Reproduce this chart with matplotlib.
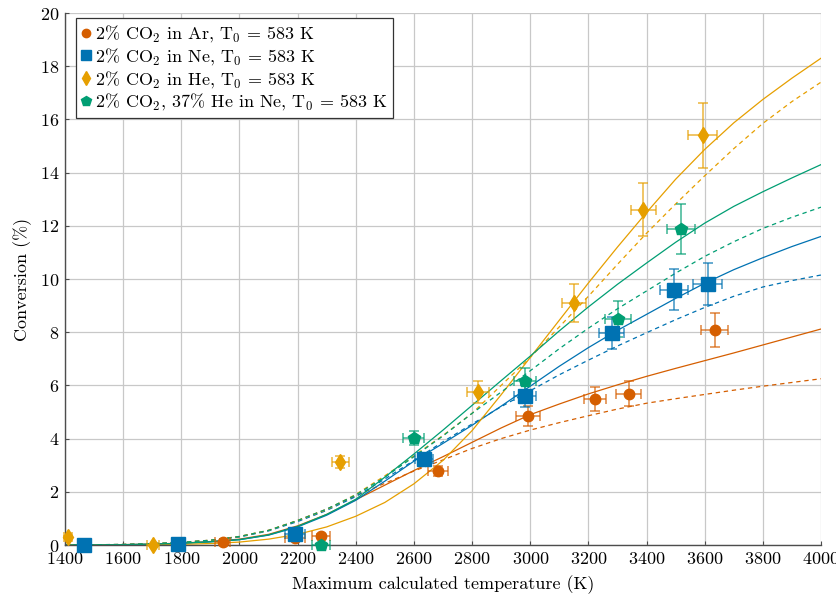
import numpy as np
import matplotlib
matplotlib.use("Agg")
import matplotlib.pyplot as plt
from matplotlib.lines import Line2D

plt.rcParams["font.family"] = "serif"
plt.rcParams["font.serif"] = ["cmr10"]
plt.rcParams["mathtext.fontset"] = "cm"
plt.rcParams["axes.formatter.use_mathtext"] = True
plt.rcParams["font.size"] = 13

C_AR = "#d55e00"
C_NE = "#0072b2"
C_HE = "#e69f00"
C_MIX = "#009e73"

# measured conversion with uncertainties
ar_T = [1942, 2191, 2280, 2683, 2992, 3222, 3339, 3635]
ar_conv = [0.1, 0.28, 0.34, 2.78, 4.85, 5.49, 5.68, 8.08]
ar_Terr = [25, 33, 32, 33, 40, 38, 43, 46]
ar_err = [0.03, 0.1, 0.08, 0.2, 0.39, 0.46, 0.47, 0.64]

ne_T = [1465, 1789, 2191, 2634, 2982, 3281, 3494, 3611]
ne_conv = [0.0, 0.02, 0.41, 3.22, 5.6, 7.97, 9.6, 9.81]
ne_Terr = [15, 20, 35, 32, 39, 43, 47, 50]
ne_err = [0.0, 0.0, 0.12, 0.15, 0.4, 0.6, 0.76, 0.78]

he_T = [1410, 1702, 2346, 2820, 3150, 3388, 3594]
he_conv = [0.3, 0.0, 3.12, 5.75, 9.1, 12.6, 15.4]
he_Terr = [15, 20, 29, 38, 41, 43, 50]
he_err = [0.05, 0.0, 0.22, 0.42, 0.72, 1.0, 1.22]

mix_T = [2280, 2600, 2982, 3302, 3518]
mix_conv = [0.0, 4.02, 6.17, 8.5, 11.88]
mix_Terr = [30, 36, 39, 44, 48]
mix_err = [0.0, 0.27, 0.48, 0.68, 0.95]

# model curves (solid and dashed variants)
model_T = [1400, 1500, 1600, 1700, 1800, 1900, 2000, 2100, 2200, 2300, 2400,
           2500, 2600, 2700, 2800, 2900, 3000, 3100, 3200, 3300, 3400, 3500,
           3600, 3700, 3800, 3900, 4000]

ar_solid = [0, 0.005, 0.015, 0.035, 0.07, 0.13, 0.22, 0.4, 0.72, 1.15, 1.7,
            2.25, 2.8, 3.32, 3.86, 4.4, 4.9, 5.3, 5.68, 6.02, 6.34, 6.64,
            6.93, 7.22, 7.52, 7.82, 8.12]
ar_dashed = [0, 0.01, 0.02, 0.05, 0.1, 0.18, 0.32, 0.55, 0.92, 1.35, 1.85,
             2.32, 2.78, 3.2, 3.63, 4.0, 4.32, 4.6, 4.86, 5.11, 5.33, 5.5,
             5.66, 5.82, 5.97, 6.11, 6.25]
ne_solid = [0, 0.005, 0.012, 0.03, 0.065, 0.12, 0.2, 0.37, 0.68, 1.12, 1.68,
            2.4, 3.15, 3.82, 4.5, 5.22, 5.97, 6.72, 7.42, 8.07, 8.67, 9.27,
            9.84, 10.35, 10.8, 11.22, 11.6]
ne_dashed = [0, 0.01, 0.02, 0.05, 0.1, 0.17, 0.3, 0.53, 0.88, 1.3, 1.82,
             2.48, 3.18, 3.88, 4.55, 5.2, 5.8, 6.4, 6.95, 7.48, 7.98, 8.47,
             8.93, 9.35, 9.7, 9.94, 10.15]
he_solid = [0, 0.002, 0.005, 0.01, 0.025, 0.055, 0.11, 0.22, 0.4, 0.68, 1.08,
            1.6, 2.3, 3.18, 4.3, 5.65, 7.05, 8.45, 9.85, 11.2, 12.5, 13.75,
            14.87, 15.87, 16.75, 17.55, 18.3]
he_dashed = [0, 0.01, 0.02, 0.05, 0.1, 0.18, 0.32, 0.55, 0.92, 1.33, 1.9,
             2.6, 3.35, 4.12, 4.95, 6.0, 7.05, 8.2, 9.35, 10.55, 11.72, 12.82,
             13.88, 14.9, 15.85, 16.67, 17.4]
mix_solid = [0, 0.005, 0.012, 0.03, 0.065, 0.12, 0.2, 0.38, 0.7, 1.15, 1.72,
             2.55, 3.42, 4.32, 5.25, 6.18, 7.1, 8.05, 8.95, 9.8, 10.6, 11.38,
             12.1, 12.73, 13.28, 13.8, 14.3]
mix_dashed = [0, 0.01, 0.02, 0.05, 0.1, 0.18, 0.32, 0.55, 0.92, 1.35, 1.88,
              2.55, 3.32, 4.1, 4.95, 5.75, 6.55, 7.38, 8.15, 8.88, 9.55, 10.22,
              10.85, 11.4, 11.9, 12.32, 12.7]

labels = [r"2% CO$_2$ in Ar, T$_0$ = 583 K",
          r"2% CO$_2$ in Ne, T$_0$ = 583 K",
          r"2% CO$_2$ in He, T$_0$ = 583 K",
          r"2% CO$_2$, 37% He in Ne, T$_0$ = 583 K"]

series = [
    (ar_T, ar_conv, ar_Terr, ar_err, ar_solid, ar_dashed, C_AR, "o", 7.5),
    (ne_T, ne_conv, ne_Terr, ne_err, ne_solid, ne_dashed, C_NE, "s", 9.5),
    (he_T, he_conv, he_Terr, he_err, he_solid, he_dashed, C_HE, "d", 8.5),
    (mix_T, mix_conv, mix_Terr, mix_err, mix_solid, mix_dashed, C_MIX, "p", 9),
]

fig = plt.figure(figsize=(8.37, 5.98), dpi=100)
ax = fig.add_axes([65 / 837, 1 - 545 / 598, 756 / 837, 532 / 598])

for T, conv, Terr, err, solid, dashed, c, m, ms in series:
    ax.plot(model_T, solid, color=c, lw=0.9, zorder=2)
    ax.plot(model_T, dashed, color=c, lw=0.9, ls=(0, (3.5, 3)), zorder=2)

handles = []
for T, conv, Terr, err, solid, dashed, c, m, ms in series:
    ax.errorbar(T, conv, xerr=Terr, yerr=err, fmt="none", ecolor=c,
                elinewidth=1.3, capsize=3.5, capthick=1.3, alpha=0.65,
                zorder=3, clip_on=False)
    ax.plot(T, conv, ls="none", marker=m, ms=ms, color=c, mec=c,
            zorder=4, clip_on=False)
    handles.append(Line2D([], [], ls="none", marker=m, ms=ms * 0.8,
                          color=c, mec=c))

ax.set_xlim(1400, 4000)
ax.set_ylim(0, 20)
ax.set_xticks(np.arange(1400, 4001, 200))
ax.set_yticks(np.arange(0, 21, 2))
ax.grid(True, color="#c8c8c8", lw=0.9)
ax.set_axisbelow(True)
for s in ["top", "right"]:
    ax.spines[s].set_visible(False)
for s in ["left", "bottom"]:
    ax.spines[s].set_color("0.3")
    ax.spines[s].set_linewidth(1.0)
ax.tick_params(direction="in", length=3, width=0.8, color="0.3",
               top=False, right=False, labelsize=13, pad=4)

ax.set_xlabel("Maximum calculated temperature (K)", fontsize=13, labelpad=6)
ax.set_ylabel("Conversion (%)", fontsize=13, labelpad=6)

leg = ax.legend(handles, labels, loc="upper left",
                bbox_to_anchor=(0.0146, 0.9906), borderaxespad=0,
                fancybox=False, framealpha=1, edgecolor="0.2",
                handlelength=0.5, handletextpad=0.25, labelspacing=0.1,
                borderpad=0.3, fontsize=13)
leg.get_frame().set_linewidth(0.9)

fig.savefig("out.png", dpi=100)
